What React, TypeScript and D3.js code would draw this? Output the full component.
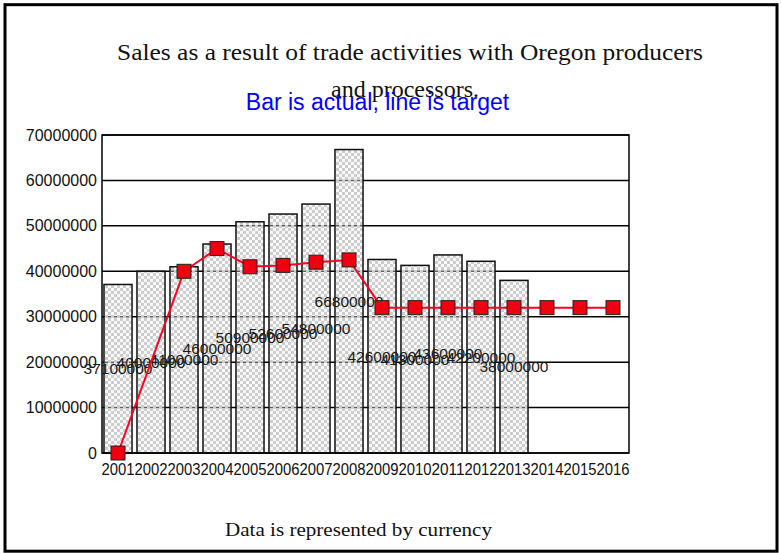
import React from 'react';
import * as d3 from 'd3';

const years = ['2001','2002','2003','2004','2005','2006','2007','2008','2009','2010','2011','2012','2013','2014','2015','2016'];
const actual: (number | null)[] = [37100000, 40000000, 41000000, 46000000, 50900000, 52600000, 54800000, 66800000, 42600000, 41300000, 43600000, 42200000, 38000000, null, null, null];
const target: (number | null)[] = [0, null, 40000000, 45000000, 41000000, 41300000, 42000000, 42500000, 32000000, 32000000, 32000000, 32000000, 32000000, 32000000, 32000000, 32000000];
const yTicks = [0, 10000000, 20000000, 30000000, 40000000, 50000000, 60000000, 70000000];

const W = 781, H = 553;
const left = 102, right = 629, top = 135, bottom = 453;

export default function App() {
  const x = d3.scaleBand<string>().domain(years).range([left, right]).paddingInner(0.15).paddingOuter(0.06);
  const y = d3.scaleLinear().domain([0, 70000000]).range([bottom, top]);
  const cx = (yr: string) => (x(yr) as number) + x.bandwidth() / 2;

  const pts = years.map((yr, i) => ({ yr, v: target[i] })).filter(d => d.v !== null) as { yr: string; v: number }[];
  const line = d3.line<{ yr: string; v: number }>().x(d => cx(d.yr)).y(d => y(d.v))(pts) || '';

  return (
    <svg width={W} height={H} style={{ position: 'absolute', left: 0, top: 0, background: '#fff' }}>
      <defs>
        <pattern id="chk" width="6" height="6" patternUnits="userSpaceOnUse">
          <rect x="0" y="0" width="3" height="3" fill="#cdcdcd" />
          <rect x="3" y="3" width="3" height="3" fill="#cdcdcd" />
          <rect x="3" y="0" width="3" height="3" fill="#f0f0f0" fillOpacity="0.4" />
          <rect x="0" y="3" width="3" height="3" fill="#f0f0f0" fillOpacity="0.4" />
        </pattern>
      </defs>
      <rect x={5} y={4.7} width={772} height={546.5} fill="#fff" stroke="#000" strokeWidth={3} />

      <text x={117} y={60} fontFamily="'Liberation Serif', 'Times New Roman', serif" fontSize={23} textLength={586} lengthAdjust="spacingAndGlyphs" fill="#111">Sales as a result of trade activities with Oregon producers</text>
      <text x={331} y={97} fontFamily="'Liberation Serif', 'Times New Roman', serif" fontSize={23} textLength={148} lengthAdjust="spacingAndGlyphs" fill="#111">and processors.</text>
      <text x={377.5} y={110} textAnchor="middle" fontFamily="'Liberation Sans', Arial, sans-serif" fontSize={23} fill="#0000ff">Bar is actual, line is target</text>

      {yTicks.map(t => (
        <g key={t}>
          <line x1={left} x2={right} y1={y(t)} y2={y(t)} stroke="#000" strokeWidth={1.5} />
          <text x={97} y={y(t)} dy="0.35em" textAnchor="end" fontFamily="'Liberation Sans', Arial, sans-serif" fontSize={16} fill="#111">{t}</text>
        </g>
      ))}

      {years.map((yr, i) => actual[i] === null ? null : (
        <rect key={yr} x={x(yr)} y={y(actual[i] as number)} width={x.bandwidth()} height={bottom - y(actual[i] as number)} fill="url(#chk)" stroke="#111" strokeWidth={1.5} />
      ))}

      <rect x={left} y={top} width={right - left} height={bottom - top} fill="none" stroke="#000" strokeWidth={1.5} />

      {years.map((yr, i) => actual[i] === null ? null : (
        <text key={'l' + yr} x={cx(yr)} y={y((actual[i] as number) / 2)} dy="0.35em" textAnchor="middle" fontFamily="'Liberation Sans', Arial, sans-serif" fontSize={15.5} fill="#1a1a1a">{actual[i]}</text>
      ))}

      <path d={line} fill="none" stroke="#ff0022" strokeWidth={2} />
      {pts.map(p => (
        <rect key={'m' + p.yr} x={cx(p.yr) - 7} y={y(p.v) - 7} width={14} height={14} fill="#ee0011" stroke="#222" strokeWidth={1} />
      ))}

      {years.map(yr => (
        <text key={'x' + yr} x={cx(yr)} y={475} textAnchor="middle" fontFamily="'Liberation Sans', Arial, sans-serif" fontSize={17} textLength={33} lengthAdjust="spacingAndGlyphs" fill="#111">{yr}</text>
      ))}

      <text x={225} y={536} fontFamily="'Liberation Serif', 'Times New Roman', serif" fontSize={18} textLength={267} lengthAdjust="spacingAndGlyphs" fill="#111">Data is represented by currency</text>
    </svg>
  );
}
